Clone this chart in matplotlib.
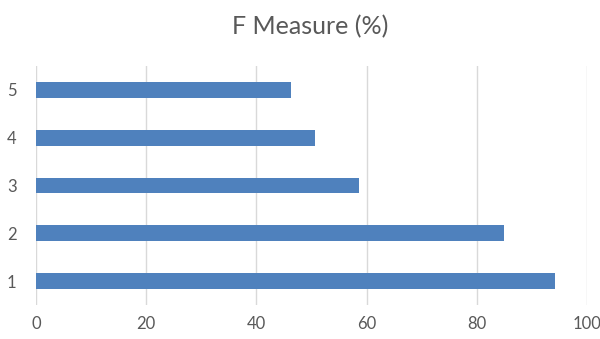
import matplotlib
matplotlib.use("Agg")
import matplotlib.pyplot as plt

categories = ["1", "2", "3", "4", "5"]
f_measure = [94.2, 84.9, 58.6, 50.6, 46.3]
x_ticks = [0, 20, 40, 60, 80, 100]

plt.rcParams["font.family"] = ["Lato", "DejaVu Sans"]

fig = plt.figure(figsize=(6.0, 3.39), dpi=100)
ax = fig.add_axes([36 / 600, 1 - 305 / 339, (587 - 36) / 600, (305 - 66) / 339])

positions = list(range(len(categories)))
ax.barh(positions, f_measure, height=0.33, color="#4F81BD", zorder=3)

ax.set_xlim(0, 100)
ax.set_ylim(-0.5, len(categories) - 0.5)
ax.set_xticks(x_ticks)
ax.set_xticklabels([str(t) for t in x_ticks])
ax.set_yticks(positions)
ax.set_yticklabels(categories)

ax.grid(axis="x", color="#D9D9D9", linewidth=1.0, zorder=0)
for side in ["top", "right", "bottom", "left"]:
    ax.spines[side].set_visible(False)
ax.tick_params(axis="both", length=0, labelsize=12, labelcolor="#595959")
ax.tick_params(axis="x", pad=8)
ax.tick_params(axis="y", pad=14)

fig.text(0.517, 1 - 27 / 339, "F Measure (%)", ha="center", va="center",
         fontsize=18, color="#595959")

fig.savefig("out.png", dpi=100)
